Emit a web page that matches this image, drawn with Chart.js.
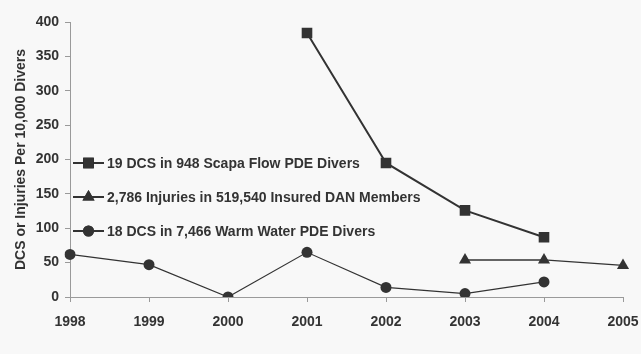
<!DOCTYPE html>
<html>
<head>
<meta charset="utf-8">
<script src="https://cdn.jsdelivr.net/npm/chart.js@4"></script>
<style>
  html, body { margin: 0; padding: 0; background: #f8f8f8; }
  #wrap { width: 641px; height: 354px; position: relative; }
</style>
</head>
<body>
<div id="wrap"><canvas id="c" width="641" height="354"></canvas></div>
<script>
// Years on the horizontal axis
const years = ['1998', '1999', '2000', '2001', '2002', '2003', '2004', '2005'];

// Incidence per 10,000 divers
const scapaFlow = [null, null, null, 384, 195, 126, 87, null];
const danMembers = [null, null, null, null, null, 54, 54, 46];
const warmWater = [62, 47, 0, 65, 14, 5, 22, null];

const seriesLabels = [
  '19 DCS in 948 Scapa Flow PDE Divers',
  '2,786 Injuries in 519,540 Insured DAN Members',
  '18 DCS in 7,466 Warm Water PDE Divers'
];

const yTicks = [0, 50, 100, 150, 200, 250, 300, 350, 400];

const ink = '#333333';
const axisGrey = '#9a9a9a';
const family = '"Liberation Sans", Arial, sans-serif';
const tickFont = { family, size: 14, weight: 'bold' };
const titleFont = { family, size: 14, weight: 'bold' };

// Legend drawn inside the plot area, left side
const insideLegend = {
  id: 'insideLegend',
  afterDraw(chart) {
    const ctx = chart.ctx;
    const area = chart.chartArea;
    const x0 = area.left + 3;
    const rows = [163, 197, 231];
    ctx.save();
    chart.data.datasets.forEach((ds, i) => {
      const y = rows[i];
      ctx.strokeStyle = ds.borderColor;
      ctx.lineWidth = 2;
      ctx.beginPath();
      ctx.moveTo(x0, y);
      ctx.lineTo(x0 + 31, y);
      ctx.stroke();
      Chart.helpers.drawPoint(ctx, {
        pointStyle: ds.pointStyle,
        radius: ds.pointRadius,
        borderWidth: 0,
        rotation: 0
      }, x0 + 15.5, y);
      ctx.fillStyle = ink;
      ctx.fill();
      ctx.font = 'bold 14px ' + family;
      ctx.textBaseline = 'middle';
      ctx.textAlign = 'left';
      ctx.fillText(ds.label, x0 + 34, y + 1);
    });
    ctx.restore();
  }
};

new Chart(document.getElementById('c'), {
  type: 'line',
  data: {
    labels: years,
    datasets: [
      {
        label: seriesLabels[0],
        data: scapaFlow,
        borderColor: ink,
        backgroundColor: ink,
        borderWidth: 2,
        pointStyle: 'rect',
        pointRadius: 7.5,
        pointBorderWidth: 0,
        tension: 0
      },
      {
        label: seriesLabels[1],
        data: danMembers,
        borderColor: ink,
        backgroundColor: ink,
        borderWidth: 1.5,
        pointStyle: 'triangle',
        pointRadius: 7,
        pointBorderWidth: 0,
        tension: 0
      },
      {
        label: seriesLabels[2],
        data: warmWater,
        borderColor: ink,
        backgroundColor: ink,
        borderWidth: 1.2,
        pointStyle: 'circle',
        pointRadius: 5.5,
        pointBorderWidth: 0,
        tension: 0
      }
    ]
  },
  options: {
    responsive: false,
    animation: false,
    spanGaps: false,
    layout: { padding: { top: 22, right: 18, left: 0, bottom: 0 } },
    plugins: {
      legend: { display: false },
      tooltip: { enabled: false }
    },
    scales: {
      x: {
        type: 'category',
        offset: false,
        grid: {
          display: true,
          drawOnChartArea: false,
          drawTicks: true,
          tickLength: 5,
          color: axisGrey
        },
        border: { color: axisGrey, width: 1 },
        ticks: { color: ink, font: tickFont, padding: 12, maxRotation: 0, autoSkip: false },
        afterFit(scale) {
          scale.height = 57;
          scale.paddingLeft = 0;
          scale.paddingRight = 0;
        }
      },
      y: {
        min: 0,
        max: 400,
        afterBuildTicks(scale) { scale.ticks = yTicks.map(v => ({ value: v })); },
        grid: {
          display: true,
          drawOnChartArea: false,
          drawTicks: true,
          tickLength: 5,
          color: axisGrey
        },
        border: { color: axisGrey, width: 1 },
        ticks: { color: ink, font: tickFont, padding: 6 },
        title: {
          display: true,
          text: 'DCS or Injuries Per 10,000 Divers',
          color: ink,
          font: titleFont,
          padding: { top: 13, bottom: 2 }
        },
        afterFit(scale) {
          scale.width = 70;
          scale.paddingTop = 0;
          scale.paddingBottom = 0;
        }
      }
    }
  },
  plugins: [insideLegend]
});
</script>
</body>
</html>
